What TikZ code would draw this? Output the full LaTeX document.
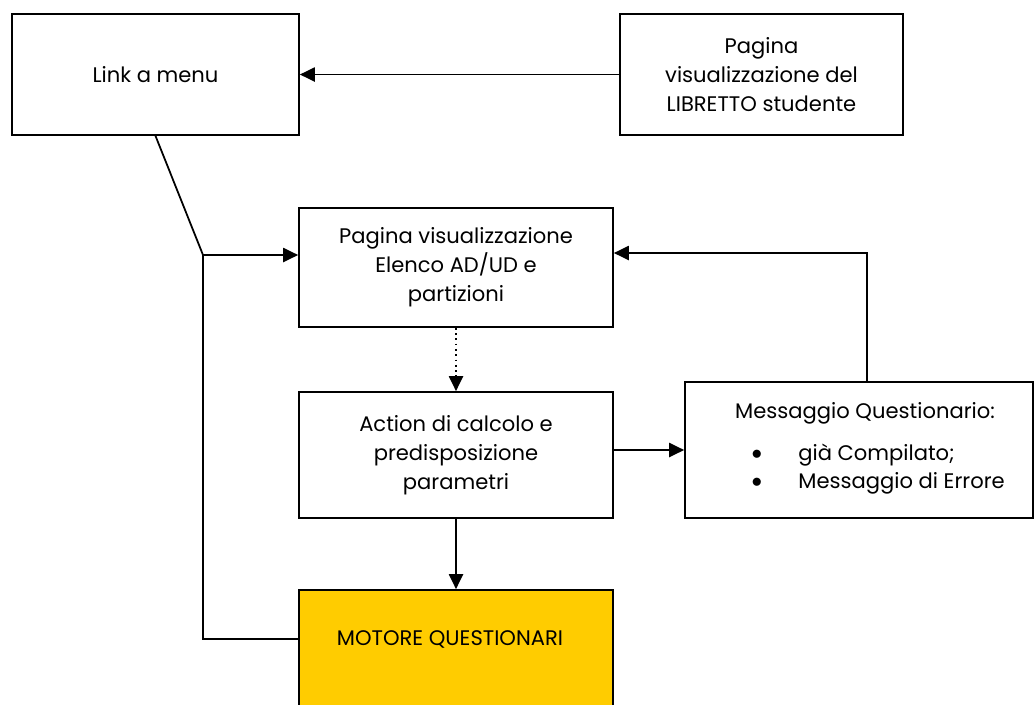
\documentclass[tikz,border=0pt]{standalone}
\usepackage{fontspec}
\setmainfont{Poppins}
\usetikzlibrary{arrows.meta}
\definecolor{motoreyellow}{HTML}{FFCC00}
\tikzset{
  box/.style={draw, line width=1pt, inner sep=0pt, align=center,
    font=\fontsize{12}{16.5}\selectfont},
  txt/.style={inner sep=0pt, font=\fontsize{12}{16.5}\selectfont},
  link/.style={line width=1pt, -{Triangle[length=8.5pt,width=8pt]}},
  wire/.style={line width=1pt},
}
\begin{document}
\begin{tikzpicture}[x=0.02cm,y=-0.02cm]
\useasboundingbox (0,0) rectangle (1035,704);

% top row
\node[box, minimum width=5.74cm, minimum height=2.42cm] (menu) at (155.5,74.5) {Link a menu};
\node[box, minimum width=5.66cm, minimum height=2.42cm] (libretto) at (761.5,74.5)
  {Pagina\\visualizzazione del\\LIBRETTO studente};

% middle column
\node[box, minimum width=6.28cm, minimum height=2.38cm] (elenco) at (456,267.5)
  {Pagina visualizzazione\\Elenco AD/UD e\\partizioni};
\node[box, minimum width=6.28cm, minimum height=2.52cm] (action) at (456,455)
  {Action di calcolo e\\predisposizione\\parametri};
\node[box, fill=motoreyellow, minimum width=6.28cm, minimum height=3cm] (motore) at (456,665) {};
\node[txt] (motoretxt) at (450,639) {MOTORE QUESTIONARI};

% message box
\node[box, minimum width=6.96cm, minimum height=2.72cm] (messaggio) at (859,450) {};
\node[txt] (msgtitle) at (865,413) {Messaggio Questionario:};
\node[txt] (bulletA) at (757,455) {$\bullet$};
\node[txt] (bulletB) at (757,483) {$\bullet$};
\node[txt, anchor=west] (itemA) at (798,455) {già Compilato;};
\node[txt, anchor=west] (itemB) at (798,483) {Messaggio di Errore};

% connectors
\coordinate (fork) at (203,255);
\coordinate (back) at (867,253);
\draw[link] (libretto.west) -- (menu.east);
\draw[wire] (menu.south) -- (fork);
\draw[link] (fork) -- (fork -| elenco.west);
\draw[wire] (fork) |- (motoretxt -| motore.west);
\draw[link, dotted] (elenco.south) -- (action.north);
\draw[link] (action.south) -- (motore.north);
\draw[link] (messaggio.west -| action.east) -- (messaggio.west);
\draw[link] (messaggio.north -| back) -- (back) -- (back -| elenco.east);

\end{tikzpicture}
\end{document}
